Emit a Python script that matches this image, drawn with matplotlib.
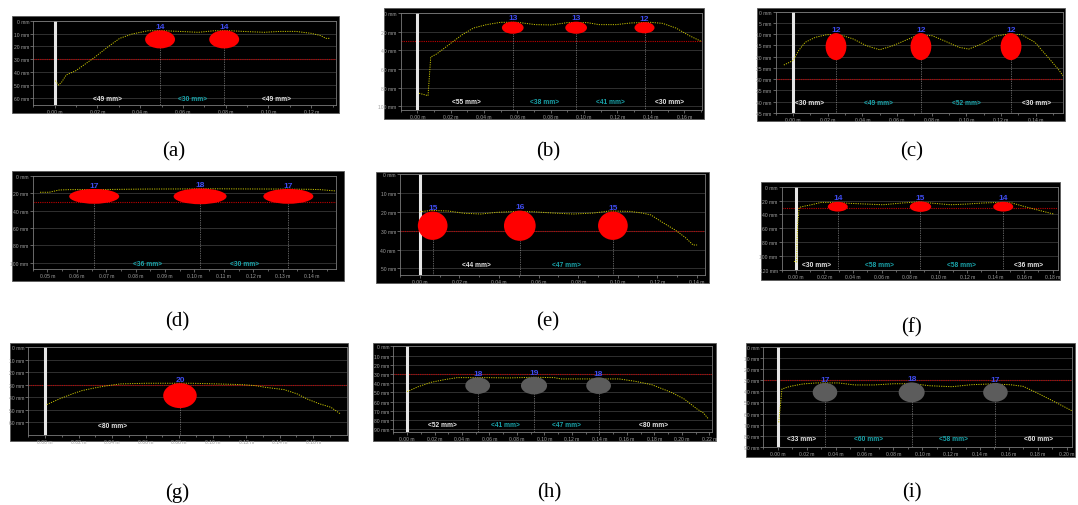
import numpy as np
import matplotlib
matplotlib.use("Agg")
import matplotlib.pyplot as plt
from matplotlib.patches import Ellipse, Rectangle

W, H = 1078, 506

# surface profile of each scan: position (m) and depth (mm)
profile_x_a = [0.0003, 0.0018, 0.0032, 0.0054, 0.0099, 0.0143, 0.0187, 0.0246, 0.0304, 0.0363, 0.0437, 0.0510,
               0.0584, 0.0672, 0.0746, 0.0819, 0.0907, 0.0980, 0.1054, 0.1128, 0.1200, 0.1246, 0.1268, 0.1290]
profile_mm_a = [46.5, 49.9, 47.8, 42.1, 38.8, 33.6, 28.4, 20.7, 13.7, 10.3, 7.8, 7.8,
                8.3, 9.0, 7.8, 7.8, 8.5, 9.0, 8.3, 8.3, 9.8, 11.6, 13.7, 13.7]

profile_x_b = [0.0010, 0.0064, 0.0080, 0.0116, 0.0202, 0.0269, 0.0337, 0.0414, 0.0500, 0.0600, 0.0709,
               0.0805, 0.0900, 0.1017, 0.1090, 0.1190, 0.1280, 0.1396, 0.1470, 0.1550, 0.1630, 0.1700]
profile_mm_b = [86.0, 88.6, 47.0, 43.7, 32.0, 23.0, 15.8, 12.2, 9.7, 9.7, 12.2,
                12.5, 10.0, 10.0, 12.2, 12.2, 10.4, 9.7, 10.8, 15.8, 24.0, 30.0]

profile_x_c = [-0.0053, 0.0, 0.0032, 0.0070, 0.0128, 0.0194, 0.0270, 0.0347, 0.0423, 0.0500, 0.0576, 0.0652, 0.0728,
               0.0805, 0.0881, 0.0957, 0.1014, 0.1090, 0.1167, 0.1243, 0.1319, 0.1396, 0.1472, 0.1529, 0.1558]
profile_mm_c = [23.7, 21.7, 17.3, 13.6, 11.4, 10.2, 10.2, 12.1, 15.1, 16.9, 15.1, 12.6, 10.2,
                10.7, 13.2, 15.8, 16.6, 14.3, 10.9, 9.9, 10.2, 13.6, 20.3, 25.4, 28.4]

profile_x_d = [0.0475, 0.0506, 0.0540, 0.0572, 0.0700, 0.0839, 0.0950, 0.1060, 0.1180, 0.1280, 0.1390, 0.1428, 0.1480]
profile_mm_d = [19.0, 19.0, 16.4, 16.0, 15.8, 15.3, 15.2, 15.0, 15.2, 15.3, 15.6, 16.0, 17.5]

profile_x_e = [0.0, 0.0058, 0.0142, 0.0225, 0.0308, 0.0390, 0.0490, 0.0575, 0.0675, 0.0775,
               0.0875, 0.0958, 0.1060, 0.1125, 0.1167, 0.1225, 0.1290, 0.1340, 0.1380, 0.1400]
profile_mm_e = [20.0, 19.3, 19.6, 20.8, 21.2, 20.3, 19.8, 20.0, 20.7, 21.2,
                20.7, 19.6, 19.8, 20.7, 21.7, 25.6, 29.7, 33.6, 37.6, 37.6]

profile_x_f = [-0.0014, 0.0005, 0.0007, 0.0014, 0.0023, 0.0052, 0.0109, 0.0177, 0.0268, 0.0381, 0.0494, 0.0608,
               0.0744, 0.0857, 0.0970, 0.1084, 0.1197, 0.1310, 0.1424, 0.1515, 0.1605, 0.1696, 0.1787, 0.1810]
profile_mm_f = [107.5, 108.5, 77.8, 49.0, 29.8, 28.3, 26.0, 22.6, 22.6, 24.0, 25.0, 26.0,
                23.5, 22.0, 24.0, 26.0, 25.0, 23.5, 22.6, 23.5, 28.8, 33.6, 38.4, 39.4]

profile_x_g = [0.0010, 0.0086, 0.0163, 0.0220, 0.0297, 0.0374, 0.0450, 0.0604, 0.0757, 0.0872,
               0.1025, 0.1178, 0.1255, 0.1312, 0.1427, 0.1504, 0.1562, 0.1638, 0.1705, 0.1762]
profile_mm_g = [45.9, 41.3, 37.3, 34.7, 32.5, 30.7, 29.3, 28.8, 28.8, 28.8,
                29.3, 29.9, 30.7, 32.0, 33.9, 37.3, 41.3, 45.3, 48.0, 53.3]

profile_x_h = [0.0, 0.0083, 0.0177, 0.0271, 0.0365, 0.0460, 0.0578, 0.0743, 0.0931, 0.1073, 0.1120,
               0.1261, 0.1450, 0.1544, 0.1662, 0.1780, 0.1922, 0.2016, 0.2110, 0.2157, 0.2193]
profile_mm_h = [49.2, 43.7, 39.0, 36.2, 34.0, 34.0, 34.0, 34.3, 33.6, 34.0, 35.4,
                35.4, 35.4, 35.4, 38.0, 41.6, 49.9, 57.1, 68.0, 72.3, 78.8]

profile_x_i = [0.0007, 0.0018, 0.0029, 0.0085, 0.0175, 0.0265, 0.0422, 0.0533, 0.0668, 0.0802,
               0.0937, 0.1049, 0.1206, 0.1340, 0.1475, 0.1610, 0.1700, 0.1811, 0.1923, 0.2035]
profile_mm_i = [68.0, 52.9, 37.8, 35.4, 33.2, 32.3, 32.3, 34.1, 34.1, 33.0,
                33.0, 34.8, 35.7, 33.9, 33.2, 33.9, 35.4, 42.3, 49.8, 57.4]

# detected voids: first position (m), depth of centre (mm), diameters (mm)
first_x = {"a": 0.0493, "b": 0.0572, "c": 0.0248, "d": 0.0659, "e": 0.0065,
           "f": 0.0293, "g": 0.0805, "h": 0.0514, "i": 0.0327}
void_depth = {"a": 14.5, "b": 15.5, "c": 15.5, "d": 23.7, "e": 27.4,
              "f": 28.8, "g": 38.7, "h": 42.7, "i": 40.8}
diam_a = [14, 14]
diam_b = [13, 13, 12]
diam_c = [12, 12, 12]
diam_d = [17, 18, 17]
diam_e = [15, 16, 15]
diam_f = [14, 15, 14]
diam_g = [20]
diam_h = [18, 19, 18]
diam_i = [17, 18, 17]

# spacing labels (mm): lead-in, gaps between voids, run-out
lead = {"a": 49, "b": 55, "c": 30, "d": None, "e": None, "f": 30, "g": 80, "h": 52, "i": 33}
gaps_a = [30]
gaps_b = [38, 41]
gaps_c = [49, 52]
gaps_d = [36, 30]
gaps_e = [44, 47]
gaps_f = [58, 58]
gaps_g = []
gaps_h = [41, 47]
gaps_i = [60, 58]
tail = {"a": 49, "b": 30, "c": 30, "d": None, "e": None, "f": 36, "g": None, "h": 80, "i": 60}

data = {
    "a": (profile_x_a, profile_mm_a, diam_a, gaps_a),
    "b": (profile_x_b, profile_mm_b, diam_b, gaps_b),
    "c": (profile_x_c, profile_mm_c, diam_c, gaps_c),
    "d": (profile_x_d, profile_mm_d, diam_d, gaps_d),
    "e": (profile_x_e, profile_mm_e, diam_e, gaps_e),
    "f": (profile_x_f, profile_mm_f, diam_f, gaps_f),
    "g": (profile_x_g, profile_mm_g, diam_g, gaps_g),
    "h": (profile_x_h, profile_mm_h, diam_h, gaps_h),
    "i": (profile_x_i, profile_mm_i, diam_i, gaps_i),
}

WHITE = "#e6e6e6"
CYAN = "#1aa3aa"

# pixel boxes (x0, y0, x1, y1), axis ranges and styling per scan
layout = {
    "a": dict(box=(12, 17, 339, 114), frame=(33.3, 21.7, 336, 106), xlim=(-0.0019, 0.1316), ylim=(65.4, 0),
              xstep=0.02, xmax=0.12, xmin=0.0, ystep=10, ymax=60, row=60, caption=(174, 152), fill="#ff0000",
              seg=[WHITE, CYAN, WHITE]),
    "b": dict(box=(384, 9, 704, 120), frame=(400.7, 14.3, 701.7, 111), xlim=(-0.0035, 0.1705), ylim=(104, 0),
              xstep=0.02, xmax=0.16, xmin=0.0, ystep=20, ymax=100, row=95, caption=(548, 152), fill="#ff0000",
              seg=[WHITE, CYAN, CYAN, WHITE]),
    "c": dict(box=(757, 9, 1065, 122), frame=(775.7, 12.7, 1063, 114), xlim=(-0.0088, 0.1558), ylim=(45, 0),
              xstep=0.02, xmax=0.14, xmin=0.0, ystep=5, ymax=45, row=40.5, caption=(912, 152), fill="#ff0000",
              seg=[WHITE, CYAN, CYAN, WHITE]),
    "d": dict(box=(12, 172, 344, 282), frame=(32.7, 176.7, 336, 270), xlim=(0.047, 0.1481), ylim=(107, 0),
              xstep=0.01, xmax=0.14, xmin=0.05, ystep=20, ymax=100, row=101, caption=(177, 322), fill="#ff0000",
              seg=[CYAN, CYAN]),
    "e": dict(box=(376, 173, 709, 284), frame=(400, 175, 705, 276), xlim=(-0.0083, 0.144), ylim=(53.5, 0),
              xstep=0.02, xmax=0.14, xmin=0.0, ystep=10, ymax=50, row=48, caption=(548, 322), fill="#ff0000",
              seg=[WHITE, CYAN]),
    "f": dict(box=(761, 183, 1060, 281), frame=(781.7, 187.7, 1058, 271), xlim=(-0.0043, 0.1837), ylim=(120, 0),
              xstep=0.02, xmax=0.18, xmin=0.0, ystep=20, ymax=120, row=112, caption=(912, 328), fill="#ff0000",
              seg=[WHITE, CYAN, CYAN, WHITE]),
    "g": dict(box=(10, 344, 348, 442), frame=(28.3, 348.3, 346.7, 435.7), xlim=(-0.0029, 0.180), ylim=(70, 0),
              xstep=0.02, xmax=0.16, xmin=0.0, ystep=10, ymax=60, row=62.7, caption=(177, 493), fill="#ff0000",
              seg=[WHITE]),
    "h": dict(box=(373, 344, 716, 442), frame=(393.3, 347.3, 711.7, 433.3), xlim=(-0.0035, 0.2217), ylim=(93.3, 0),
              xstep=0.02, xmax=0.22, xmin=0.0, ystep=10, ymax=90, row=85, caption=(549, 493), fill="#5c5c5c",
              seg=[WHITE, CYAN, CYAN, WHITE]),
    "i": dict(box=(746, 344, 1075, 458), frame=(763.3, 348.3, 1071.7, 448.3), xlim=(-0.0038, 0.2035), ylim=(90.6, 0),
              xstep=0.02, xmax=0.20, xmin=0.0, ystep=10, ymax=90, row=83, caption=(912, 493), fill="#5c5c5c",
              seg=[WHITE, CYAN, CYAN, WHITE]),
}


def fig_rect(x0, y0, x1, y1):
    return [x0 / W, 1 - y1 / H, (x1 - x0) / W, (y1 - y0) / H]


def draw_scan(fig, key):
    lay = layout[key]
    px, pmm, diams, gaps = data[key]
    depth = void_depth[key]

    # black screen behind the plot
    bx = fig_rect(*lay["box"])
    fig.add_artist(Rectangle((bx[0], bx[1]), bx[2], bx[3], transform=fig.transFigure,
                             facecolor="black", edgecolor="#5a5a5a", lw=0.6, zorder=-1))

    ax = fig.add_axes(fig_rect(*lay["frame"]))
    ax.set_facecolor("black")
    ax.set_xlim(*lay["xlim"])
    ax.set_ylim(*lay["ylim"])

    yt = np.arange(0, lay["ymax"] + 0.1, lay["ystep"])
    ax.set_yticks(yt)
    ax.set_yticklabels([f"{int(v)} mm" for v in yt])
    xt = np.round(np.arange(lay["xmin"], lay["xmax"] + 1e-6, lay["xstep"]), 3)
    ax.set_xticks(xt)
    ax.set_xticklabels([f"{v:.2f} m" for v in xt])
    ax.set_xticks(np.round(np.arange(lay["xmin"] - lay["xstep"] / 2, lay["xlim"][1], lay["xstep"] / 2), 4),
                  minor=True)
    ax.tick_params(axis="both", which="both", colors="#8a8a8a", labelcolor="#a0a0a0",
                   labelsize=3.6, length=2, width=0.5, pad=1)
    ax.tick_params(axis="x", which="minor", length=1.5)
    for lbl in ax.get_xticklabels() + ax.get_yticklabels():
        lbl.set_family("Liberation Sans")
    for s in ax.spines.values():
        s.set_color("#7a7a7a")
        s.set_linewidth(0.6)

    for v in yt:
        ax.axhline(v, color="#383838", lw=0.6, zorder=0)
    ax.axhline(30, color="#c00000", lw=0.8, ls=(0, (1, 1)), zorder=1)
    if lay["xlim"][0] < 0:
        ax.axvline(0, color=WHITE, lw=2.2, zorder=1)

    ax.plot(px, pmm, color="#c8c400", lw=0.7, ls=(0, (1.2, 1.2)), zorder=2)

    xs = first_x[key] + np.concatenate([[0.0], np.cumsum(gaps)]) / 1000.0
    for x, d in zip(xs, diams):
        ax.plot([x, x], [depth + d / 2, lay["ylim"][0]], color="#b5b5b5", lw=0.5,
                ls=(0, (1, 1.5)), zorder=2)
        ax.add_patch(Ellipse((x, depth), d / 1000.0, d, facecolor=lay["fill"], edgecolor="none", zorder=3))
        ax.annotate(str(d), (x, depth - d / 2), xytext=(0, 0.3), textcoords="offset points",
                    ha="center", va="bottom", color="#3f4cf0", fontsize=6, fontweight="bold",
                    family="Liberation Sans", zorder=4)

    # spacing labels sit midway between their bounds
    bounds = list(xs)
    values = list(gaps)
    if lead[key] is not None:
        bounds = [xs[0] - lead[key] / 1000.0] + bounds
        values = [lead[key]] + values
    if tail[key] is not None:
        bounds = bounds + [xs[-1] + tail[key] / 1000.0]
        values = values + [tail[key]]
    for k, (v, c) in enumerate(zip(values, lay["seg"])):
        mid = (bounds[k] + bounds[k + 1]) / 2
        ax.text(mid, lay["row"], f"<{v} mm>", ha="center", va="center", color=c,
                fontsize=4.8, fontweight="bold", family="Liberation Sans", zorder=4)

    cx, cy = lay["caption"]
    fig.text(cx / W, 1 - cy / H, f"({key})", ha="center", va="center",
             fontsize=15, family="Liberation Serif", color="black")


fig = plt.figure(figsize=(W / 100, H / 100), dpi=100)
fig.patch.set_facecolor("white")

for key in "abcdefghi":
    draw_scan(fig, key)

fig.savefig("out.png", dpi=100)
plt.close(fig)
